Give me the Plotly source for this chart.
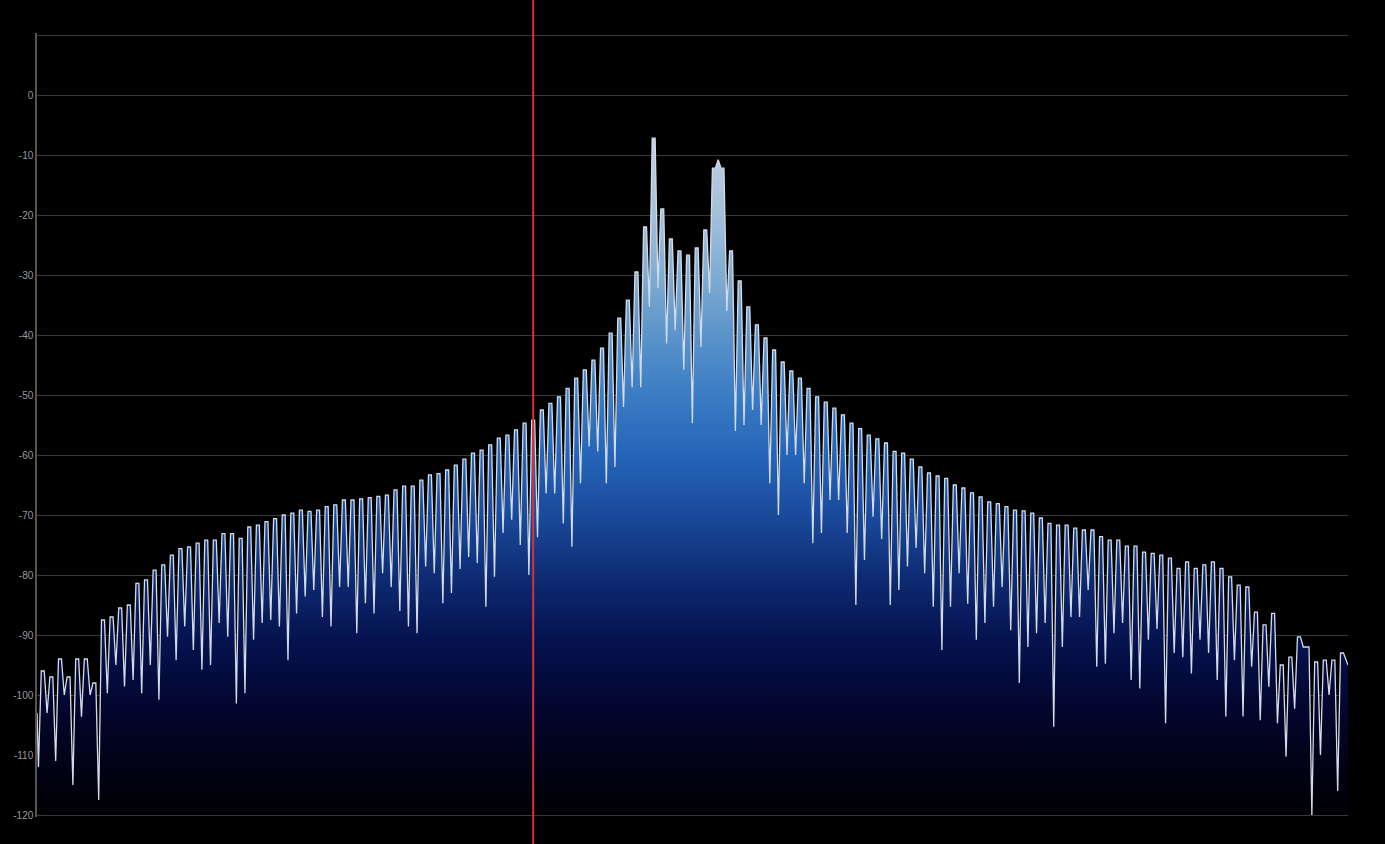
import plotly.graph_objects as go

# ---- data (dB) ----
# one peak level per lobe (bin index 0..151)
lobe_peaks_db = [
    -96, -97, -94, -97, -94, -94, -98,
    -87.5, -87, -85.5, -85, -81.4, -80.8, -79.2, -78.3, -76.7, -75.6, -75.3, -74.7, -74.2, -74.2,
    -73.1, -73.1, -73.9, -72, -71.7, -71.1, -70.6, -70, -69.7, -69.2, -69.4, -69.2,
    -68.6, -68.3, -67.5, -67.5, -67.3, -67.1, -66.9, -66.7, -65.8, -65.2, -65.2, -64.2, -63.3,
    -63.1, -62.5, -61.7, -60.7, -59.7, -59.2, -58.3, -57.2, -56.7, -55.8, -54.7, -54.2,
    -52.5, -51.4, -50.3, -48.9, -47.2, -45.8, -44.2, -42.2, -39.7, -37.2, -34.2, -29.5, -22,
    -7.2, -19, -24, -26, -26.7, -25.5, -22.5, -12.2, -12.2, -26, -31,
    -35.3, -38.3, -40.5, -42.5, -44.5, -46, -47.2, -48.9, -50.3, -51.2, -52.2, -53.3, -54.7,
    -55.6, -56.7, -57.3, -58, -59.4, -59.7, -60.7, -62, -63, -63.5, -63.9, -65, -65.5, -66.3,
    -67, -67.8, -68.1, -68.6, -69.2, -69.3, -69.7,
    -70.5, -71.4, -71.7, -71.7, -72.2, -72.5, -72.5, -73.6, -74.2, -74.2, -75.2, -75.2, -76.2,
    -76.4, -76.7, -77.2, -78.9, -77.8, -78.9, -78.3, -77.8, -78.9, -80.3, -81.7, -82, -86.2,
    -88.3, -86.4,
    -95, -93.7, -90.3, -92, -94.5, -94.2, -94.2, -93,
]

# level between lobe i and lobe i+1 (nulls; the dome top between lobes 78 and 79)
null_depths_db = [
    -103, -111, -100, -115, -103.6, -100, -117.5,
    -99.7, -95, -98.6, -97.5, -99.7, -95, -100.8, -90.3, -94.2, -88.6, -92.5, -95.8, -95, -88,
    -90.3, -101.4, -99.7, -90.8, -88, -87.5, -88.6, -94.2, -86.4, -83.6, -82.5,
    -87, -88.6, -82, -82, -89.7, -84.7, -86.4, -79.7, -82, -86, -88.6, -89.7, -78.6, -79.7,
    -84.7, -83, -79, -77, -78, -85.3, -80.3, -73, -70.8, -75, -80,
    -73.7, -66.4, -66.4, -71.4, -75.3, -64.7, -58.6, -59.4, -64.7, -62, -52, -48.7, -48.7,
    -35.3, -32.2, -41.4, -39.2, -45.8, -54.7, -42, -33, -10.8, -36, -56, -55,
    -52.5, -55, -64.7, -70, -60, -60, -64.7, -74.7, -73, -67.5, -67.5, -73, -85, -77.5, -70.3,
    -74, -85, -82.5, -78.6, -75.5, -79.7, -85.3, -92.5, -85.3, -79.7, -84.8, -90.8, -88,
    -85.3, -82, -89.2, -98, -92, -89.7,
    -88, -105.3, -92, -87, -87, -82.5, -95.3, -94.8, -89.7, -88, -97.5, -98.9, -90.8, -89,
    -104.7, -93, -93.7, -96.4, -90.8, -93, -97.5, -103.6, -94.2, -103.6, -95.3, -104.2,
    -98.6, -104.7, -110.3, -102.3, -92, -120, -110, -100, -116,
]

lead_levels_db = [-103, -112]   # value at left edge, first null before lobe 0
tail_level_db = -95             # value at right edge

freq_range = [-0.67, 151.7]            # bin range shown
level_range = [-120 - 1 / 3, 10 + 1 / 3]  # dB range shown
marker_bin = 57                        # red marker position
y_ticks = [-120, -110, -100, -90, -80, -70, -60, -50, -40, -30, -20, -10, 0, 10]
y_tick_text = [str(v) for v in y_ticks[:-1]] + [""]

# ---- build the trace through bins ----
half_top = 0.17
xs = [freq_range[0], -0.5]
ys = [lead_levels_db[0], lead_levels_db[1]]
for i, p in enumerate(lobe_peaks_db):
    xs += [i - half_top, i + half_top]
    ys += [p, p]
    if i < len(null_depths_db):
        xs.append(i + 0.5)
        ys.append(null_depths_db[i])
xs.append(freq_range[1])
ys.append(tail_level_db)

fig = go.Figure()
fig.add_trace(go.Scatter(x=[freq_range[0], freq_range[1]], y=[-120, -120], mode="lines",
                         line=dict(width=0), hoverinfo="skip", showlegend=False))
fig.add_trace(go.Scatter(
    x=xs, y=ys, mode="lines", fill="tonexty",
    line=dict(color="#d4dbe8", width=1.3),
    fillgradient=dict(
        type="vertical", start=-120, stop=-5,
        colorscale=[
            [0.0, "#000004"],
            [10 / 115, "#02021a"],
            [20 / 115, "#030834"],
            [30 / 115, "#061452"],
            [40 / 115, "#0e2c74"],
            [50 / 115, "#1a4a9c"],
            [60 / 115, "#2565b8"],
            [70 / 115, "#3a7cc4"],
            [80 / 115, "#5a94ca"],
            [90 / 115, "#80acd2"],
            [100 / 115, "#a2bfda"],
            [1.0, "#c6d4e2"],
        ],
    ),
    showlegend=False,
))

fig.add_shape(type="line", xref="x", yref="paper", x0=marker_bin, x1=marker_bin,
              y0=-0.05, y1=1.06, line=dict(color="#d83238", width=2), layer="above")

fig.update_layout(
    width=1385, height=844,
    paper_bgcolor="#000000", plot_bgcolor="#000000",
    margin=dict(l=37, r=37, t=33, b=27),
    showlegend=False,
    xaxis=dict(range=freq_range, showgrid=False, zeroline=False, showticklabels=False,
               ticks="", showline=False),
    yaxis=dict(range=level_range, tickvals=y_ticks, ticktext=y_tick_text,
               showgrid=True, gridcolor="#383838", gridwidth=1, zeroline=False,
               showline=True, linecolor="#555555", linewidth=1.5, ticks="",
               tickfont=dict(family="Liberation Sans", size=10, color="#9a9a9a")),
    font=dict(family="Liberation Sans"),
)

fig.write_html(
    "out.html",
    config={"displayModeBar": False},
    post_script="document.body.style.margin='0';document.body.style.background='#000';",
)
